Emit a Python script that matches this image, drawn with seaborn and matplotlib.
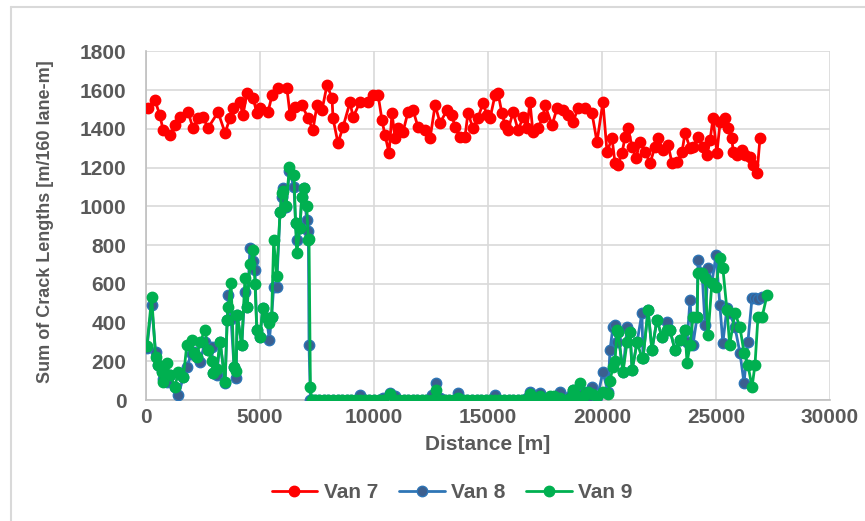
import numpy as np
import pandas as pd
import matplotlib
matplotlib.use("Agg")
import matplotlib.pyplot as plt
from matplotlib.lines import Line2D
import seaborn as sns

# ---- Van 7 survey ----
van7_dist = [90, 390, 610, 750, 1050, 1270, 1490, 1840, 2060, 2280, 2500, 2720, 3160, 3470, 3680, 3820,
             4120, 4250, 4430, 4690, 4870,
             5000, 5350, 5530, 5790, 6180, 6320, 6540, 6840, 7110, 7320, 7500, 7720, 7940, 8160, 8200,
             8420, 8640, 8950, 9080, 9390, 9740,
             9960, 10180, 10350, 10480, 10660, 10790, 10920, 11050, 11270, 11490, 11710, 11930, 12240,
             12460, 12680, 12900, 13200, 13420, 13550, 13770, 13990, 14120, 14340, 14560, 14780,
             14960, 15090, 15310, 15440, 15610, 15750, 15880, 16100, 16320, 16540, 16710, 16840, 16970,
             17190, 17410, 17500, 17810, 18030, 18290, 18510, 18730, 18950, 19250, 19560, 19780,
             20040, 20220, 20440, 20570, 20700, 20880, 21010, 21140, 21320, 21490, 21670, 21890, 22110,
             22320, 22460, 22680, 22900, 23070, 23290, 23510, 23640, 23860, 23990, 24210, 24430, 24610,
             24740, 24870, 25040, 25180, 25400, 25530, 25700, 25750, 25920, 26140, 26270, 26490, 26620,
             26800, 26930]
van7_len = [1505, 1548, 1470, 1393, 1368, 1419, 1462, 1488, 1404, 1455, 1460, 1404, 1486, 1378, 1455, 1507,
            1538, 1470, 1584, 1558, 1481,
            1507, 1486, 1574, 1610, 1610, 1470, 1512, 1522, 1455, 1393, 1522, 1497, 1626, 1558, 1455,
            1326, 1409, 1538, 1460, 1538, 1538,
            1574, 1574, 1445, 1368, 1275, 1481, 1352, 1404, 1383, 1486, 1497, 1409, 1393,
            1352, 1522, 1430, 1497, 1470, 1409, 1357, 1357, 1481, 1404, 1455, 1533,
            1470, 1455, 1574, 1584, 1481, 1419, 1393, 1486, 1393, 1460, 1404, 1538, 1383,
            1404, 1460, 1522, 1419, 1507, 1497, 1470, 1435, 1507, 1507, 1481, 1332,
            1538, 1280, 1352, 1223, 1213, 1275, 1357, 1404, 1306, 1249, 1332, 1280, 1223,
            1306, 1352, 1290, 1316, 1223, 1228, 1280, 1378, 1301, 1306, 1357, 1306, 1265,
            1342, 1455, 1275, 1435, 1455, 1404, 1352, 1280, 1265, 1290, 1265, 1254, 1213,
            1172, 1352]

# ---- Van 8 / Van 9 surveys (shared stations) ----
van89_dist = [40, 250, 420, 540, 690, 760, 900, 1050, 1270, 1420, 1640, 1790, 2000, 2100, 2220, 2370,
              2590, 2730, 2880, 2950, 3100, 3250, 3470, 3560, 3610, 3730, 3860, 3950, 4000, 4200, 4340,
              4440, 4560, 4710, 4780, 4860, 5000, 5120, 5290, 5410, 5510, 5600, 5730, 5880, 5960, 6020,
              6140, 6290, 6490, 6560, 6610, 6750, 6830, 6910, 7050, 7120, 7150, 7210, 7270,
              7400, 7600, 7800, 8000, 8200, 8400, 8600, 8800, 9000, 9200, 9400, 9600, 9800, 10000, 10200,
              10400, 10700, 10900, 11100, 11300, 11500, 11700, 11900, 12100, 12300, 12540, 12710, 12900,
              13100, 13300, 13500, 13680, 13900, 14100, 14300, 14500, 14700, 14900, 15100, 15310, 15500,
              15700, 15900, 16100, 16300, 16500, 16700, 16840, 17000, 17280, 17500, 17700, 17900, 18160,
              18400, 18600, 18730, 18900, 19040, 19200, 19400, 19560, 19800,
              20040, 20260, 20350, 20480, 20570, 20660, 20700, 20920, 21100, 21230, 21320, 21540, 21750,
              21800, 22020, 22190, 22410, 22630, 22850, 22980, 23200, 23420, 23640, 23730, 23860, 23990,
              24170, 24210, 24390, 24520, 24650, 24820, 25000, 25170, 25300, 25480, 25600, 25830, 26050,
              26230, 26400, 26580, 26710, 26840, 27020, 27240]
van8_len = [270, 490, 249, 181, 150, 110, 95, 129, 69, 26, 120, 172, 240, 250, 224, 198,
            300, 258, 275, 138, 129, 301, 90, 413, 542, 420, 172, 112, 439, 284, 560,
            482, 783, 720, 671, 361, 327, 473, 422, 310, 430, 585, 585, 972, 1050, 1093,
            998, 1180, 1100, 912, 826, 886, 1049, 1093, 929, 870, 284, 0, 0,
            0, 0, 0, 0, 0, 0, 0, 0, 0, 0, 26, 0, 0, 0, 0,
            10, 36, 20, 0, 0, 0, 0, 0, 0, 0, 26, 89, 10,
            0, 0, 0, 36, 0, 0, 0, 0, 0, 0, 0, 26, 0,
            0, 0, 0, 0, 0, 10, 41, 0, 36, 0, 10, 0, 41,
            0, 20, 52, 10, 30, 40, 10, 67, 15,
            144, 41, 258, 377, 387, 300, 351, 144, 377, 351, 155, 299, 449,
            217, 465, 258, 413, 325, 403, 361, 258, 310, 361, 300, 516, 284,
            428, 722, 655, 387, 681, 604, 748, 490, 294, 475, 449, 377, 243,
            88, 300, 526, 526, 520, 530, np.nan]
van9_len = [280, 530, 224, 181, 146, 95, 189, 129, 69, 146, 120, 284, 310, 241, 224, 300,
            361, 258, 200, 138, 160, 301, 95, 413, 480, 606, 172, 150, 439, 284, 628,
            482, 700, 774, 600, 361, 327, 473, 422, 400, 430, 826, 640, 972, 1067, 1080,
            1000, 1201, 1161, 912, 757, 886, 1049, 1093, 1000, 826, 830, 69, 0,
            0, 0, 0, 0, 0, 0, 0, 0, 0, 0, 0, 0, 0, 0, 0,
            0, 30, 0, 0, 0, 0, 0, 0, 0, 0, 0, 52, 0,
            0, 0, 0, 10, 0, 0, 0, 0, 0, 0, 0, 0, 0,
            0, 0, 0, 0, 0, 0, 30, 0, 20, 0, 20, 20, 10,
            0, 10, 52, 20, 88, 20, 40, 30, 20,
            41, 30, 100, 170, 200, 361, 351, 144, 300, 351, 155, 299, 217,
            217, 465, 258, 413, 325, 361, 361, 258, 310, 361, 191, 284, 428,
            428, 655, 655, 630, 335, 604, 583, 733, 681, 465, 284, 449, 377,
            243, 181, 67, 181, 428, 428, 542]

series_names = ["Van 7", "Van 8", "Van 9"]
series_colors = {"Van 7": "#FF0000", "Van 8": "#2E75B6", "Van 9": "#00B050"}
marker_faces = {"Van 7": "#FF0000", "Van 8": "#3B5F8F", "Van 9": "#00B050"}

y_ticks = [0, 200, 400, 600, 800, 1000, 1200, 1400, 1600, 1800]
x_ticks = [0, 5000, 10000, 15000, 20000, 25000, 30000]

frames = [
    pd.DataFrame({"Distance": van7_dist, "Length": van7_len, "Van": "Van 7"}),
    pd.DataFrame({"Distance": van89_dist, "Length": van8_len, "Van": "Van 8"}),
    pd.DataFrame({"Distance": van89_dist, "Length": van9_len, "Van": "Van 9"}),
]

sns.set_theme(style="white")
plt.rcParams["font.family"] = ["Liberation Sans", "DejaVu Sans"]
plt.rcParams["font.weight"] = "bold"

fig = plt.figure(figsize=(8.65, 5.21), dpi=100)
ax = fig.add_axes([146 / 865, 1 - 400 / 521, (830 - 146) / 865, (400 - 51.3) / 521])

grid_c = "#D9D9D9"
for name, df in zip(series_names, frames):
    df = df.dropna()
    sns.lineplot(data=df, x="Distance", y="Length", ax=ax, color=series_colors[name],
                 linewidth=2.0, marker="o", markersize=7.5,
                 markerfacecolor=marker_faces[name], markeredgecolor=series_colors[name],
                 markeredgewidth=1.0, estimator=None, sort=False, legend=False, zorder=3)

ax.set_xlim(0, 30000)
ax.set_ylim(0, 1800)
ax.set_xticks(x_ticks)
ax.set_yticks(y_ticks)
ax.set_xticklabels([str(t) for t in x_ticks])
ax.set_yticklabels([str(t) for t in y_ticks])
ax.grid(True, color=grid_c, linewidth=1.2)
ax.set_axisbelow(True)
for s in ["top", "right"]:
    ax.spines[s].set_visible(False)
for s in ["left", "bottom"]:
    ax.spines[s].set_color("#BFBFBF")
    ax.spines[s].set_linewidth(1.2)
ax.tick_params(axis="both", length=0, labelsize=15, labelcolor="#595959")
ax.tick_params(axis="y", pad=14)
ax.tick_params(axis="x", pad=6)
for lab in ax.get_xticklabels() + ax.get_yticklabels():
    lab.set_fontweight("bold")
ax.set_xlabel("")
ax.set_ylabel("")

fig.text(488 / 865, 1 - 444 / 521, "Distance [m]", ha="center", va="center",
         fontsize=15, fontweight="bold", color="#595959")
fig.text(46 / 865, 1 - 222 / 521, "Sum of Crack Lengths [m/160 lane-m]", ha="center", va="center",
         rotation=90, fontsize=13, fontweight="bold", color="#595959")

handles = [Line2D([0], [0], color=series_colors[n], linewidth=2.0, marker="o", markersize=7.5,
                  markerfacecolor=marker_faces[n], markeredgecolor=series_colors[n])
           for n in series_names]
leg = fig.legend(handles, series_names, loc="center", bbox_to_anchor=(452 / 865, 1 - 493 / 521),
                 ncol=3, frameon=False, fontsize=15, handlelength=2.2, columnspacing=1.0,
                 handletextpad=0.3)
for t in leg.get_texts():
    t.set_fontweight("bold")
    t.set_color("#595959")

# chart-area border
fig.add_artist(Line2D([11 / 865, 11 / 865], [0, 1 - 7 / 521], transform=fig.transFigure,
                      color=grid_c, linewidth=1.5))
fig.add_artist(Line2D([11 / 865, 1], [1 - 7 / 521, 1 - 7 / 521], transform=fig.transFigure,
                      color=grid_c, linewidth=1.5))

fig.savefig("out.png", dpi=100)
